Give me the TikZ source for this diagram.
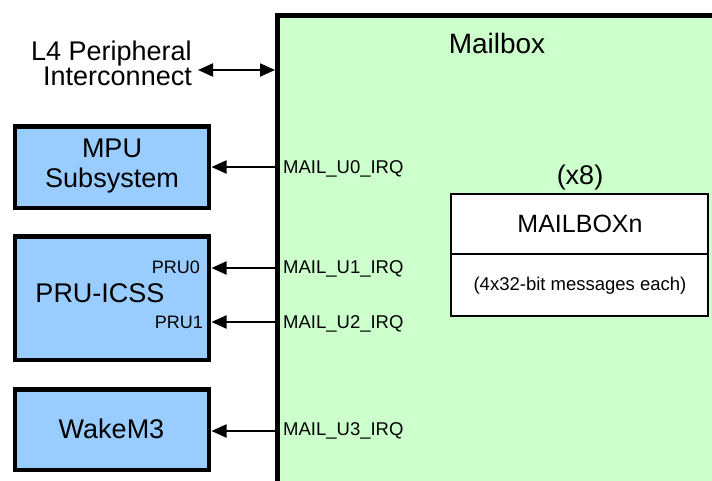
\documentclass[tikz,border=0pt]{standalone}
\usepackage{fontspec}
\setmainfont{Liberation Sans}
\usetikzlibrary{arrows.meta}
\definecolor{mbgreen}{HTML}{CCFFCC}
\definecolor{cpublue}{HTML}{99CCFF}
\tikzset{
  lbl/.style={inner sep=0pt, anchor=base},
  big/.style={lbl, font=\fontsize{27}{31}\selectfont},
  small/.style={lbl, font=\fontsize{18.5}{22}\selectfont},
  cpubox/.style={draw=black, line width=4.5pt, fill=cpublue, minimum width=194pt, inner sep=0pt},
  irq/.style={line width=2pt, -{Triangle[length=15pt,width=13pt]}},
  mbxbox/.style={draw=black, line width=1.5pt, fill=white, minimum width=257pt, inner sep=0pt},
}
\begin{document}
\begin{tikzpicture}[x=1pt,y=-1pt]
\useasboundingbox (0,0) rectangle (712,481);
\fill[white] (0,0) rectangle (712,481);
% Mailbox block
\fill[mbgreen] (277.5,15.5) rectangle (712,481);
\draw[line width=5pt] (277.5,481) |- (712,15.5);
\node[big, font=\fontsize{28}{32}\selectfont] (mbtitle) at (497,54) {Mailbox};
% edge coordinates
\coordinate (e0) at (275,70);
\coordinate (e1) at (275,167);
\coordinate (e2) at (275,268);
\coordinate (e3) at (275,322);
\coordinate (e4) at (275,431);
% L4
\node[big, anchor=base east] (l4a) at (192,61) {L4 Peripheral};
\node[big, anchor=base east] (l4b) at (192,86) {Interconnect};
\coordinate (l4r) at (198,70);
\draw[line width=2pt, {Triangle[length=15pt,width=13pt]}-{Triangle[length=15pt,width=13pt]}] (l4r) -- (e0);
% CPU boxes
\node[cpubox, minimum height=81.5pt] (mpu) at (112,167.25) {};
\node[big] (mputxt) at (112,158) {MPU};
\node[big] (subtxt) at (112,188) {Subsystem};
\node[cpubox, minimum height=123.5pt] (pru) at (112,298.25) {};
\node[big] (prutxt) at (100,302) {PRU-ICSS};
\node[lbl, font=\fontsize{18}{22}\selectfont, anchor=base east] (pru0) at (200,273) {PRU0};
\node[lbl, font=\fontsize{18}{22}\selectfont, anchor=base east] (pru1) at (203,328) {PRU1};
\node[cpubox, minimum height=80.5pt] (wake) at (112,429.75) {};
\node[big] (waketxt) at (111.5,438) {WakeM3};
% IRQ arrows
\coordinate (t1) at (211.5,167);
\coordinate (t2) at (211.5,268);
\coordinate (t3) at (211.5,322);
\coordinate (t4) at (211.5,431);
\draw[irq] (e1) -- (t1);
\draw[irq] (e2) -- (t2);
\draw[irq] (e3) -- (t3);
\draw[irq] (e4) -- (t4);
\node[small, anchor=base west] (u0) at (283,173.3) {MAIL\_U0\_IRQ};
\node[small, anchor=base west] (u1) at (283,273.3) {MAIL\_U1\_IRQ};
\node[small, anchor=base west] (u2) at (283,328.3) {MAIL\_U2\_IRQ};
\node[small, anchor=base west] (u3) at (283,435.7) {MAIL\_U3\_IRQ};
% MAILBOXn
\node[big] (x8) at (580,185) {(x8)};
\node[mbxbox, minimum height=60pt] (mbxtop) at (579.5,224) {};
\node[mbxbox, minimum height=62pt] (mbxbot) at (579.5,285) {};
\node[lbl, font=\fontsize{25}{29}\selectfont] (mbxn) at (580,233) {MAILBOXn};
\node[small] (msgs) at (580,290) {(4x32-bit messages each)};
\end{tikzpicture}
\end{document}
